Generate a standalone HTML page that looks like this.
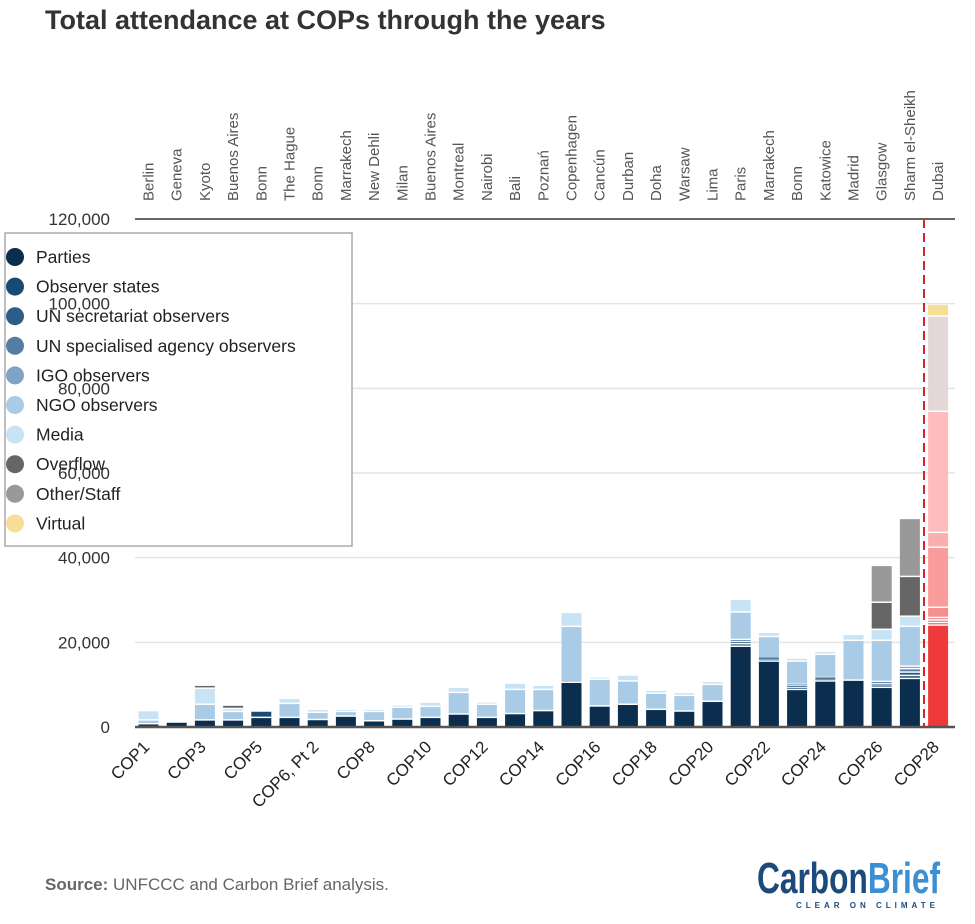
<!DOCTYPE html>
<html><head><meta charset="utf-8">
<style>
body{margin:0;background:#fff;width:975px;height:919px;overflow:hidden;font-family:"Liberation Sans",sans-serif;}
</style></head>
<body>
<svg id="chart" width="975" height="919" xmlns="http://www.w3.org/2000/svg" font-family="Liberation Sans, sans-serif">
<text x="45" y="29" font-size="27" font-weight="bold" fill="#333">Total attendance at COPs through the years</text>
<g id="grid"></g>
<g id="bars"></g>
<g id="legend"></g>
<g id="yaxis"></g>
<g id="xaxis"></g>
<g id="cities"></g>
<text x="45" y="890" font-size="17" fill="#666"><tspan font-weight="bold">Source:</tspan> UNFCCC and Carbon Brief analysis.</text>
<g>
<text x="757" y="893" font-size="44" font-weight="bold" font-family="Liberation Sans Narrow, Liberation Sans, sans-serif" textLength="183" lengthAdjust="spacingAndGlyphs"><tspan fill="#1b4b7d">Carbon</tspan><tspan fill="#3b8fd3">Brief</tspan></text>
<text x="796" y="908" font-size="8" font-weight="bold" fill="#1b4b7d" letter-spacing="4">CLEAR ON CLIMATE</text>
</g>
</svg>
<script>
const cops = ["COP1","COP2","COP3","COP4","COP5","COP6","COP6, Pt 2","COP7","COP8","COP9","COP10","COP11","COP12","COP13","COP14","COP15","COP16","COP17","COP18","COP19","COP20","COP21","COP22","COP23","COP24","COP25","COP26","COP27","COP28"];
const cities = ["Berlin","Geneva","Kyoto","Buenos Aires","Bonn","The Hague","Bonn","Marrakech","New Dehli","Milan","Buenos Aires","Montreal","Nairobi","Bali","Poznań","Copenhagen","Cancún","Durban","Doha","Warsaw","Lima","Paris","Marrakech","Bonn","Katowice","Madrid","Glasgow","Sharm el-Sheikh","Dubai"];
const categories = ["Parties","Observer states","UN secretariat observers","UN specialised agency observers","IGO observers","NGO observers","Media","Overflow","Other/Staff","Virtual"];
// values in thousands of attendees
const parties   = [0.6,1.0,1.5,1.5,2.1,2.1,1.6,2.4,1.3,1.7,2.1,2.9,2.1,3.0,3.7,10.4,4.8,5.2,4.0,3.6,5.9,18.9,15.4,8.7,10.7,10.9,9.2,11.3,23.9];
const observerStates = [0,0,0,0,1.5,0,0,0,0,0,0,0,0,0,0,0,0,0,0,0,0,0.6,0.3,0.4,0.3,0,0.3,0.7,0.6];
const unSecretariat  = [0,0,0,0,0,0,0,0,0,0,0,0,0,0,0,0,0,0,0,0,0,0.5,0.2,0.4,0.3,0,0.5,0.8,0.6];
const unAgency       = [0,0,0,0,0,0,0,0,0,0,0,0,0,0,0,0,0,0,0,0,0,0.5,0.2,0.4,0.3,0,0.6,0.8,0.6];
const igo            = [0,0,0,0,0,0,0,0,0,0,0,0,0,0,0,0.2,0,0,0,0,0,0,0,0,0,0,0,0.6,2.4];
const ngo      = [0.9,0,3.7,2.0,0,3.3,1.7,1.1,2.2,2.8,2.6,5.1,3.1,5.7,5.0,13.0,6.3,5.5,3.8,3.7,4.0,6.5,5.1,5.5,5.4,9.4,9.7,9.4,14.2];
const media    = [2.2,0,3.8,0.7,0,1.2,0.7,0.2,0.5,0.3,1.0,1.2,0.5,1.5,1.0,3.3,0.4,1.4,0.7,0.7,0.7,3.0,1.0,0.7,0.7,1.4,2.6,2.4,3.5];
const overflow = [0,0,0.7,0.8,0,0,0,0,0,0,0,0,0,0,0,0,0,0,0,0,0,0,0,0,0,0,6.4,9.4,28.6];
const other    = [0,0,0,0,0,0,0,0,0,0,0,0,0,0,0,0,0,0,0,0,0,0,0,0,0,0,8.7,13.7,22.5];
const virtual  = [0,0,0,0,0,0,0,0,0,0,0,0,0,0,0,0,0,0,0,0,0,0,0,0,0,0,0,0,2.8];
const yTicks = [0,20,40,60,80,100,120];
const yTickLabels = ["0","20,000","40,000","60,000","80,000","100,000","120,000"];

const series=[parties,observerStates,unSecretariat,unAgency,igo,ngo,media,overflow,other,virtual];
const blues=["#0b2d4e","#174a75","#2c5d89","#557ca2","#7ea3c5","#a9cbe5","#c8e3f6","#666666","#999999","#f8dd97"];
const reds=["#ee3a3b","#e25050","#ec6a6a","#f27a7a","#f58e8e","#fb9c9c","#fbaeae","#ffbcbe","#e3d7d8","#f8dd97"];
const NS="http://www.w3.org/2000/svg";
const X0=138.5, STEP=28.2, BW=20, Y0=727, YTOP=219, YMAX=120;
const xPos=i=>X0+i*STEP;
const yPos=v=>Y0-(v/YMAX)*(Y0-YTOP);
function mk(tag,attrs,parent){const e=document.createElementNS(NS,tag);for(const k in attrs)e.setAttribute(k,attrs[k]);parent.appendChild(e);return e;}

const grid=document.getElementById('grid');
yTicks.forEach((t,i)=>{
  const l=mk('line',{x1:135,x2:955,y1:yPos(t),y2:yPos(t),stroke:(t===YMAX?'#333':'#e4e4e4'),'stroke-width':1.5},grid);
  
  
});
const ya=document.getElementById('yaxis');
yTicks.forEach((t,i)=>{
  const tx=mk('text',{x:110,y:yPos(t)+6,'text-anchor':'end','font-size':17,fill:'#333'},ya);
  tx.textContent=yTickLabels[i];
  
  
});

const bars=document.getElementById('bars');
cops.forEach((c,i)=>{
  const g=mk('g',{},bars);
  
  
  let cum=0;
  const pal=(i===cops.length-1)?reds:blues;
  series.forEach((s,k)=>{
    const v=s[i]; if(!v) return;
    const y1=yPos(cum), y2=yPos(cum+v); cum+=v;
    const gap=(k===0)?0:1.5;
    const h=Math.max(0.8,y1-y2-gap);
    const r=mk('rect',{x:xPos(i),y:y1-gap-h,width:BW,height:h,fill:pal[k]},g);
    
    
  });
});
const base=mk('line',{x1:135,x2:955,y1:Y0,y2:Y0,stroke:'#555','stroke-width':2.5},bars);


const d=mk('line',{x1:924,x2:924,y1:YTOP,y2:Y0,stroke:'#d32626','stroke-width':2,'stroke-dasharray':'9,5'},bars);



const xa=document.getElementById('xaxis');
cops.forEach((c,i)=>{
  if(i%2) return;
  const cx=xPos(i)+BW/2+2, cy=748;
  const t=mk('text',{x:cx,y:cy,'text-anchor':'end','font-size':17,fill:'#222',transform:`rotate(-45 ${cx} ${cy})`},xa);
  t.textContent=c;
  
  
});
const ct=document.getElementById('cities');
cities.forEach((c,i)=>{
  const cx=xPos(i)+BW/2+5, cy=201;
  const t=mk('text',{x:cx,y:cy,'font-size':15,fill:'#555',transform:`rotate(-90 ${cx} ${cy})`},ct);
  t.textContent=c;
  
  
});

const lg=document.getElementById('legend');
const box=mk('rect',{x:5,y:233,width:347,height:313,fill:'#fff','fill-opacity':0.9,stroke:'#aaa','stroke-width':1.5},lg);


categories.forEach((c,k)=>{
  const y=257+k*29.6;
  const g=mk('g',{},lg);
  
  
  mk('circle',{cx:15,cy:y,r:9,fill:blues[k]},g);
  const t=mk('text',{x:36,y:y+6,'font-size':17.5,fill:'#222'},g);
  t.textContent=c;
});
</script>
</body></html>
